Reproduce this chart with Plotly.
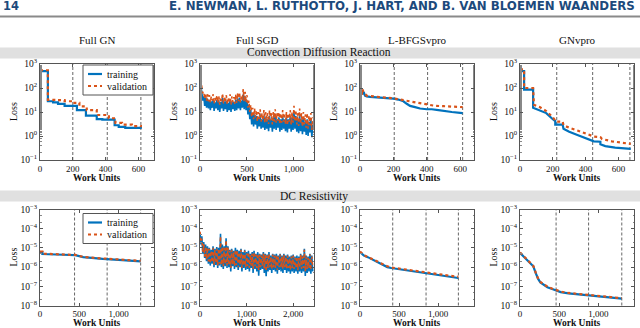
import plotly.graph_objects as go

# ---------------- data ----------------
col_titles = ["Full GN", "Full SGD", "L-BFGSvpro", "GNvpro"]
row_titles = ["Convection Diffusion Reaction", "DC Resistivity"]
series_names = ["training", "validation"]

# Top row: Convection Diffusion Reaction
cdr_gn_train_x = [0, 48, 80, 110, 150, 225, 280, 346, 380, 455, 480, 520, 615]
cdr_gn_train_y = [500, 28, 25, 22, 18, 12, 7, 5, 4.8, 2.8, 2.4, 2.2, 2.0]
cdr_gn_val_x = [0, 48, 100, 150, 200, 240, 285, 346, 420, 460, 500, 560, 615]
cdr_gn_val_y = [550, 32, 31, 28, 24, 17, 12, 7.5, 5.5, 3.5, 3.0, 2.6, 2.3]
cdr_gn_epochs = [200, 410, 615]

cdr_sgd_step = 10
cdr_sgd_train_y = [250, 120, 60, 30, 45, 18, 40, 15, 35, 14,
                   30, 12, 28, 15, 35, 11, 25, 14, 32, 12,
                   30, 10, 26, 14, 38, 11, 28, 13, 30, 10,
                   24, 12, 34, 10, 28, 13, 26, 11, 33, 12,
                   36, 14, 40, 12, 30, 15, 55, 13, 45, 12,
                   30, 8, 20, 5, 12, 3, 9, 2.5, 8, 3,
                   7, 2, 6, 2.5, 8, 2, 5, 2.2, 7, 1.8,
                   6, 2, 5, 1.6, 7, 2.2, 5, 1.5, 6, 2,
                   8, 1.8, 5, 2.2, 6, 1.5, 5, 1.8, 7, 2,
                   5, 1.6, 6, 1.4, 5, 2, 7, 1.5, 6, 1.8,
                   10, 2, 7, 1.5, 5, 1.3, 8, 1.6, 5, 1.2,
                   6, 1.5, 4, 1.1, 5, 1, 4, 1.4, 5, 0.9, 3]
cdr_sgd_val_y = [400, 250, 100, 60, 70, 35, 60, 30, 55, 28,
                 50, 25, 45, 30, 55, 22, 40, 28, 50, 24,
                 45, 20, 42, 28, 60, 22, 45, 25, 50, 20,
                 40, 24, 55, 20, 45, 26, 42, 22, 55, 24,
                 60, 28, 65, 25, 50, 30, 90, 28, 70, 25,
                 50, 15, 30, 10, 20, 6, 15, 5, 14, 6,
                 12, 4, 10, 5, 13, 4, 9, 4.5, 12, 3.5,
                 10, 4, 9, 3.2, 12, 4.5, 9, 3, 10, 4,
                 13, 3.6, 9, 4.4, 10, 3, 9, 3.6, 12, 4,
                 9, 3.2, 10, 2.8, 9, 4, 12, 3, 10, 3.6,
                 18, 4, 12, 3, 9, 2.6, 14, 3.2, 9, 2.4,
                 10, 3, 8, 2.2, 9, 2, 7, 2.8, 9, 1.8, 6]
cdr_sgd_epochs = []

cdr_lbfgs_train_x = [0, 3, 6, 10, 15, 20, 25, 30, 40, 60, 80, 100, 130, 160, 200, 230, 260,
                     280, 300, 330, 360, 400, 430, 470, 500, 550, 600, 615]
cdr_lbfgs_train_y = [500, 150, 90, 70, 80, 55, 60, 48, 45, 43, 42, 41, 40, 38, 36, 33, 28,
                     22, 18, 16, 14, 13, 13, 12, 11, 10, 9.2, 9]
cdr_lbfgs_val_x = [0, 3, 6, 10, 15, 20, 30, 40, 60, 100, 150, 200, 250, 280, 300, 350, 400,
                   450, 500, 550, 600, 615]
cdr_lbfgs_val_y = [550, 60, 100, 50, 90, 70, 60, 48, 46, 42, 40, 37, 32, 30, 28, 24, 20,
                   18, 17.5, 17, 16.5, 16]
cdr_lbfgs_epochs = [205, 405, 615]

cdr_gnv_train_x = [0, 25, 25, 80, 80, 120, 160, 200, 215, 215, 260, 265, 300, 350, 400, 450,
                   490, 490, 520, 580, 675]
cdr_gnv_train_y = [500, 500, 85, 85, 15, 12, 9, 5, 4.2, 3, 3, 2, 1.5, 1.1, 0.8, 0.6,
                   0.58, 0.45, 0.38, 0.33, 0.29]
cdr_gnv_val_x = [0, 25, 25, 80, 85, 120, 160, 200, 220, 260, 265, 300, 350, 400, 450, 490,
                 500, 560, 675]
cdr_gnv_val_y = [600, 600, 100, 100, 20, 16, 11, 6, 4, 4, 2.8, 2.2, 1.7, 1.3, 0.95, 0.9,
                 0.75, 0.6, 0.47]
cdr_gnv_epochs = [224, 443, 670]

# Bottom row: DC Resistivity
dc_gn_train_x = [0, 30, 30, 100, 200, 300, 440, 450, 550, 650, 800, 1000, 1150, 1282]
dc_gn_train_y = [6e-6, 6e-6, 4.8e-6, 4.6e-6, 4.5e-6, 4.4e-6, 4.2e-6, 4.2e-6, 3.3e-6, 3.0e-6,
                 2.7e-6, 2.4e-6, 2.2e-6, 2.0e-6]
dc_gn_val_x = [0, 30, 30, 100, 200, 300, 440, 450, 550, 650, 800, 1000, 1150, 1282]
dc_gn_val_y = [6.5e-6, 6.5e-6, 5.0e-6, 4.8e-6, 4.6e-6, 4.5e-6, 4.3e-6, 4.3e-6, 3.4e-6, 3.1e-6,
               2.8e-6, 2.5e-6, 2.3e-6, 2.1e-6]
dc_gn_epochs = [440, 855, 1282]

dc_sgd_step = 20
dc_sgd_train_y = [6e-5, 1.5e-5, 4e-5, 5e-6, 2e-5, 3e-6, 1.5e-5, 2e-6, 1.2e-5, 1.5e-6,
                  1.0e-5, 1.2e-6, 8e-6, 1.5e-6, 1.2e-5, 1.0e-6, 9e-6, 1.3e-6, 1.1e-5, 9e-7,
                  1.0e-5, 1.2e-6, 5.5e-5, 1.0e-6, 1.5e-5, 8e-7, 1.2e-5, 1.1e-6, 3.2e-5, 9e-7,
                  1.2e-5, 1.0e-6, 8e-6, 6e-7, 9e-6, 1.1e-6, 7e-6, 8e-7, 1.0e-5, 1.0e-6,
                  8e-6, 7e-7, 7e-6, 1.0e-6, 9e-6, 6e-7, 6e-6, 9e-7, 8e-6, 7e-7,
                  6e-6, 8e-7, 7e-6, 6e-7, 5e-6, 9e-7, 6e-6, 5e-7, 7e-6, 8e-7,
                  5e-6, 6e-7, 6e-6, 3.6e-7, 5e-6, 7e-7, 4.5e-6, 8e-7, 6e-6, 5e-7,
                  5e-6, 3.4e-7, 4.5e-6, 6e-7, 6e-6, 7e-7, 4e-6, 5e-7, 5e-6, 7e-7,
                  4.5e-6, 6e-7, 5e-6, 4.5e-7, 4e-6, 7e-7, 5e-6, 6e-7, 4e-6, 5e-7,
                  5e-6, 7e-7, 4e-6, 5e-7, 4.5e-6, 6e-7, 3.5e-6, 4.5e-7, 4e-6, 6e-7,
                  4.5e-6, 5e-7, 3.5e-6, 6e-7, 4e-6, 4.5e-7, 3.5e-6, 6e-7, 5e-6, 5e-7,
                  4e-6, 6e-7, 9e-6, 3.5e-7, 4e-6, 5e-7, 3.5e-6, 6e-7, 5e-6, 4.5e-7, 4e-6, 6e-7]
dc_sgd_val_y = [7e-5, 2e-5, 3e-5, 6e-6, 1.6e-5, 3.5e-6, 1.2e-5, 2.5e-6, 1.0e-5, 2e-6,
                9e-6, 1.5e-6, 7e-6, 1.8e-6, 1.0e-5, 1.3e-6, 8e-6, 1.6e-6, 9e-6, 1.2e-6,
                9e-6, 1.5e-6, 4e-5, 1.3e-6, 1.2e-5, 1.1e-6, 1.0e-5, 1.4e-6, 2.5e-5, 1.2e-6,
                1.0e-5, 1.3e-6, 7e-6, 9e-7, 8e-6, 1.4e-6, 6e-6, 1.1e-6, 8e-6, 1.3e-6,
                7e-6, 1.0e-6, 6e-6, 1.3e-6, 8e-6, 9e-7, 5e-6, 1.2e-6, 7e-6, 1.0e-6,
                5e-6, 1.1e-6, 6e-6, 9e-7, 4.5e-6, 1.2e-6, 5e-6, 8e-7, 6e-6, 1.1e-6,
                4.5e-6, 9e-7, 5e-6, 7e-7, 4.5e-6, 1.0e-6, 4e-6, 1.1e-6, 5e-6, 8e-7,
                4.5e-6, 6e-7, 4e-6, 9e-7, 5e-6, 1.0e-6, 3.5e-6, 8e-7, 4.5e-6, 1.0e-6,
                4e-6, 9e-7, 4.5e-6, 7e-7, 3.5e-6, 1.0e-6, 4.5e-6, 9e-7, 3.5e-6, 8e-7,
                4.5e-6, 1.0e-6, 3.5e-6, 8e-7, 4e-6, 9e-7, 3e-6, 7e-7, 3.5e-6, 9e-7,
                4e-6, 8e-7, 3e-6, 9e-7, 3.5e-6, 7e-7, 3e-6, 9e-7, 4.5e-6, 8e-7,
                3.5e-6, 9e-7, 8e-6, 6e-7, 3.5e-6, 8e-7, 3e-6, 9e-7, 4.5e-6, 7e-7, 3.5e-6, 9e-7]
dc_sgd_epochs = []

dc_lbfgs_x = [0, 50, 100, 150, 200, 250, 300, 350, 400, 500, 600, 700, 800, 900, 1000,
              1100, 1200, 1260]
dc_lbfgs_train_y = [6e-6, 4e-6, 3.3e-6, 2.6e-6, 2.0e-6, 1.6e-6, 1.2e-6, 1.0e-6, 9e-7, 7.8e-7,
                    6.6e-7, 5.6e-7, 4.9e-7, 4.3e-7, 3.8e-7, 3.3e-7, 2.9e-7, 2.7e-7]
dc_lbfgs_val_y = [6.5e-6, 4.2e-6, 3.4e-6, 2.7e-6, 2.1e-6, 1.7e-6, 1.3e-6, 1.1e-6, 9.5e-7,
                  8.3e-7, 7.2e-7, 6.2e-7, 5.5e-7, 4.9e-7, 4.4e-7, 3.8e-7, 3.3e-7, 3.1e-7]
dc_lbfgs_epochs = [419, 846, 1260]

dc_gnv_x = [0, 40, 80, 120, 150, 170, 200, 230, 260, 300, 350, 420, 520, 620, 720, 830, 930,
            1050, 1180, 1300]
dc_gnv_train_y = [5.5e-6, 3.8e-6, 2.7e-6, 1.7e-6, 1.4e-6, 1.1e-6, 5e-7, 2.5e-7, 1.6e-7,
                  1.2e-7, 9e-8, 7e-8, 5e-8, 4.3e-8, 3.9e-8, 3.4e-8, 3.1e-8, 2.8e-8, 2.5e-8,
                  2.3e-8]
dc_gnv_val_y = [5.8e-6, 3.9e-6, 2.8e-6, 1.8e-6, 1.45e-6, 1.15e-6, 5.3e-7, 2.6e-7, 1.7e-7,
                1.25e-7, 9.5e-8, 7.3e-8, 5.3e-8, 4.5e-8, 4.1e-8, 3.6e-8, 3.3e-8, 3e-8,
                2.7e-8, 2.4e-8]
dc_gnv_epochs = [461, 876, 1300]

# axis settings
top_x_ranges = [[0, 695], [0, 1213], [0, 683], [0, 695]]
bot_x_ranges = [[0, 1452], [0, 2447], [0, 1460], [0, 1456]]
top_x_ticks = [[0, 200, 400, 600], [0, 500, 1000], [0, 200, 400, 600], [0, 200, 400, 600]]
bot_x_ticks = [[0, 500, 1000], [0, 1000, 2000], [0, 500, 1000], [0, 500, 1000]]
top_y_exp = [-1, 0, 1, 2, 3]
bot_y_exp = [-8, -7, -6, -5, -4, -3]

# ---------------- figure ----------------
W, H = 640, 328
BLUE = "#0072BD"
ORANGE = "#D95319"
SERIF = "Liberation Serif"
HEAD = "#1c4a7c"


def px(x):
    return x / W


def py(y):
    return 1 - y / H


def idx_x(step, n):
    return [step * i for i in range(n)]


panels = [
    (cdr_gn_train_x, cdr_gn_train_y, cdr_gn_val_x, cdr_gn_val_y, cdr_gn_epochs, "hv", 2.2),
    (idx_x(cdr_sgd_step, len(cdr_sgd_train_y)), cdr_sgd_train_y,
     idx_x(cdr_sgd_step, len(cdr_sgd_val_y)), cdr_sgd_val_y, cdr_sgd_epochs, "linear", 1.6),
    (cdr_lbfgs_train_x, cdr_lbfgs_train_y, cdr_lbfgs_val_x, cdr_lbfgs_val_y, cdr_lbfgs_epochs,
     "linear", 2.2),
    (cdr_gnv_train_x, cdr_gnv_train_y, cdr_gnv_val_x, cdr_gnv_val_y, cdr_gnv_epochs, "linear", 2.2),
    (dc_gn_train_x, dc_gn_train_y, dc_gn_val_x, dc_gn_val_y, dc_gn_epochs, "linear", 2.2),
    (idx_x(dc_sgd_step, len(dc_sgd_train_y)), dc_sgd_train_y,
     idx_x(dc_sgd_step, len(dc_sgd_val_y)), dc_sgd_val_y, dc_sgd_epochs, "linear", 1.6),
    (dc_lbfgs_x, dc_lbfgs_train_y, dc_lbfgs_x, dc_lbfgs_val_y, dc_lbfgs_epochs, "linear", 2.2),
    (dc_gnv_x, dc_gnv_train_y, dc_gnv_x, dc_gnv_val_y, dc_gnv_epochs, "linear", 2.2),
]

col_left = [40, 200, 360, 520]
col_w = 114
row_top = [64, 209.5]
row_h = 96

fig = go.Figure()
layout = dict(
    width=W, height=H, margin=dict(l=0, r=0, t=0, b=0, pad=0, autoexpand=False),
    paper_bgcolor="white", plot_bgcolor="white",
    font=dict(family=SERIF, size=9, color="#111"),
    showlegend=False,
)
shapes = []
annotations = []


def note(text, x, y, size, family=SERIF, color="#111", angle=0, xanchor="center"):
    annotations.append(dict(text=text, x=px(x), y=py(y), xref="paper", yref="paper",
                            xanchor=xanchor, yanchor="middle", showarrow=False,
                            textangle=angle, font=dict(family=family, size=size, color=color)))


for k, (tx, ty, vx, vy, epochs, shape, lw) in enumerate(panels):
    r, c = divmod(k, 4)
    n = k + 1
    xa = "x" if n == 1 else f"x{n}"
    ya = "y" if n == 1 else f"y{n}"
    common = dict(xaxis=xa, yaxis=ya, mode="lines", line_shape=shape)
    fig.add_trace(go.Scatter(x=tx, y=ty, name=series_names[0],
                             line=dict(color=BLUE, width=lw), **common))
    fig.add_trace(go.Scatter(x=vx, y=vy, name=series_names[1],
                             line=dict(color=ORANGE, width=lw, dash="dot"), **common))
    x0 = col_left[c]
    y0 = row_top[r]
    xr = top_x_ranges[c] if r == 0 else bot_x_ranges[c]
    xt = top_x_ticks[c] if r == 0 else bot_x_ticks[c]
    yexp = top_y_exp if r == 0 else bot_y_exp
    yvals = [10.0 ** e for e in yexp]
    ytext = [f"10<sup>{str(e).replace('-', '−')}</sup>" for e in yexp]
    axis_common = dict(showline=True, linecolor="#555", linewidth=1, mirror="allticks",
                       ticks="inside", ticklen=3, tickcolor="#555", showgrid=False,
                       zeroline=False, automargin=False)
    layout[("xaxis" if n == 1 else f"xaxis{n}")] = dict(
        domain=[px(x0), px(x0 + col_w)], anchor=ya, range=xr,
        tickvals=xt, tickformat=",d",
        tickfont=dict(family=SERIF, size=9, color="#111"), **axis_common)
    layout[("yaxis" if n == 1 else f"yaxis{n}")] = dict(
        domain=[py(y0 + row_h), py(y0)], anchor=xa, type="log",
        range=[yexp[0], yexp[-1]], tickvals=yvals, ticktext=ytext,
        tickfont=dict(family=SERIF, size=9.5, color="#111"),
        minor=dict(ticks="inside", ticklen=1.5, tickcolor="#888", showgrid=False),
        **axis_common)
    for e in epochs:
        shapes.append(dict(type="line", xref=xa, yref=f"{ya} domain", x0=e, x1=e, y0=0, y1=1,
                           line=dict(color="#666", width=1, dash="3px,2px"), layer="below"))
    note("Loss", x0 - 27, y0 + row_h / 2, 10, angle=-90)
    note("<b>Work Units</b>", x0 + col_w / 2, y0 + row_h + 17.5, 9.5)

    # legend (first column only)
    if c == 0:
        lx0, lx1 = x0 + 43, x0 + 113
        ly0 = y0 + (1 if r == 0 else 4)
        shapes.append(dict(type="rect", xref="paper", yref="paper", x0=px(lx0), x1=px(lx1),
                           y0=py(ly0 + 30), y1=py(ly0), fillcolor="white",
                           line=dict(color="#555", width=1)))
        for j, (nm, col, dash) in enumerate([(series_names[0], BLUE, "solid"),
                                             (series_names[1], ORANGE, "dot")]):
            yy = ly0 + 9 + 12 * j
            shapes.append(dict(type="line", xref="paper", yref="paper", x0=px(lx0 + 5),
                               x1=px(lx0 + 19), y0=py(yy), y1=py(yy),
                               line=dict(color=col, width=2.2, dash=dash)))
            note(nm, lx0 + 22, yy, 10, xanchor="left")

# column titles
for c, t in enumerate(col_titles):
    note(t, col_left[c] + col_w / 2, 40, 11)

# row bands
band_rows = [(47.5, 58.5, 52.5, 319), (190.5, 201.5, 196, 314)]
for (b0, b1, ty_, tx_), t in zip(band_rows, row_titles):
    shapes.append(dict(type="rect", xref="paper", yref="paper", x0=0, x1=1, y0=py(b1),
                       y1=py(b0), fillcolor="#e0e0e0", line=dict(width=0), layer="below"))
    note(t, tx_, ty_, 11.5)

# page header
shapes.append(dict(type="line", xref="paper", yref="paper", x0=0, x1=1, y0=py(16.5),
                   y1=py(16.5), line=dict(color="#8a8a8a", width=2)))
note("<b>14</b>", 1, 6, 11.5, family="DejaVu Sans", color=HEAD, xanchor="left")
note("<b>E. NEWMAN, L. RUTHOTTO, J. HART, AND B. VAN BLOEMEN WAANDERS</b>", 637, 6, 11.8,
     family="DejaVu Sans", color=HEAD, xanchor="right")

layout["shapes"] = shapes
layout["annotations"] = annotations
fig.update_layout(**layout)

fig.write_html("out.html", config={"displayModeBar": False},
               post_script="document.body.style.margin='0';")
